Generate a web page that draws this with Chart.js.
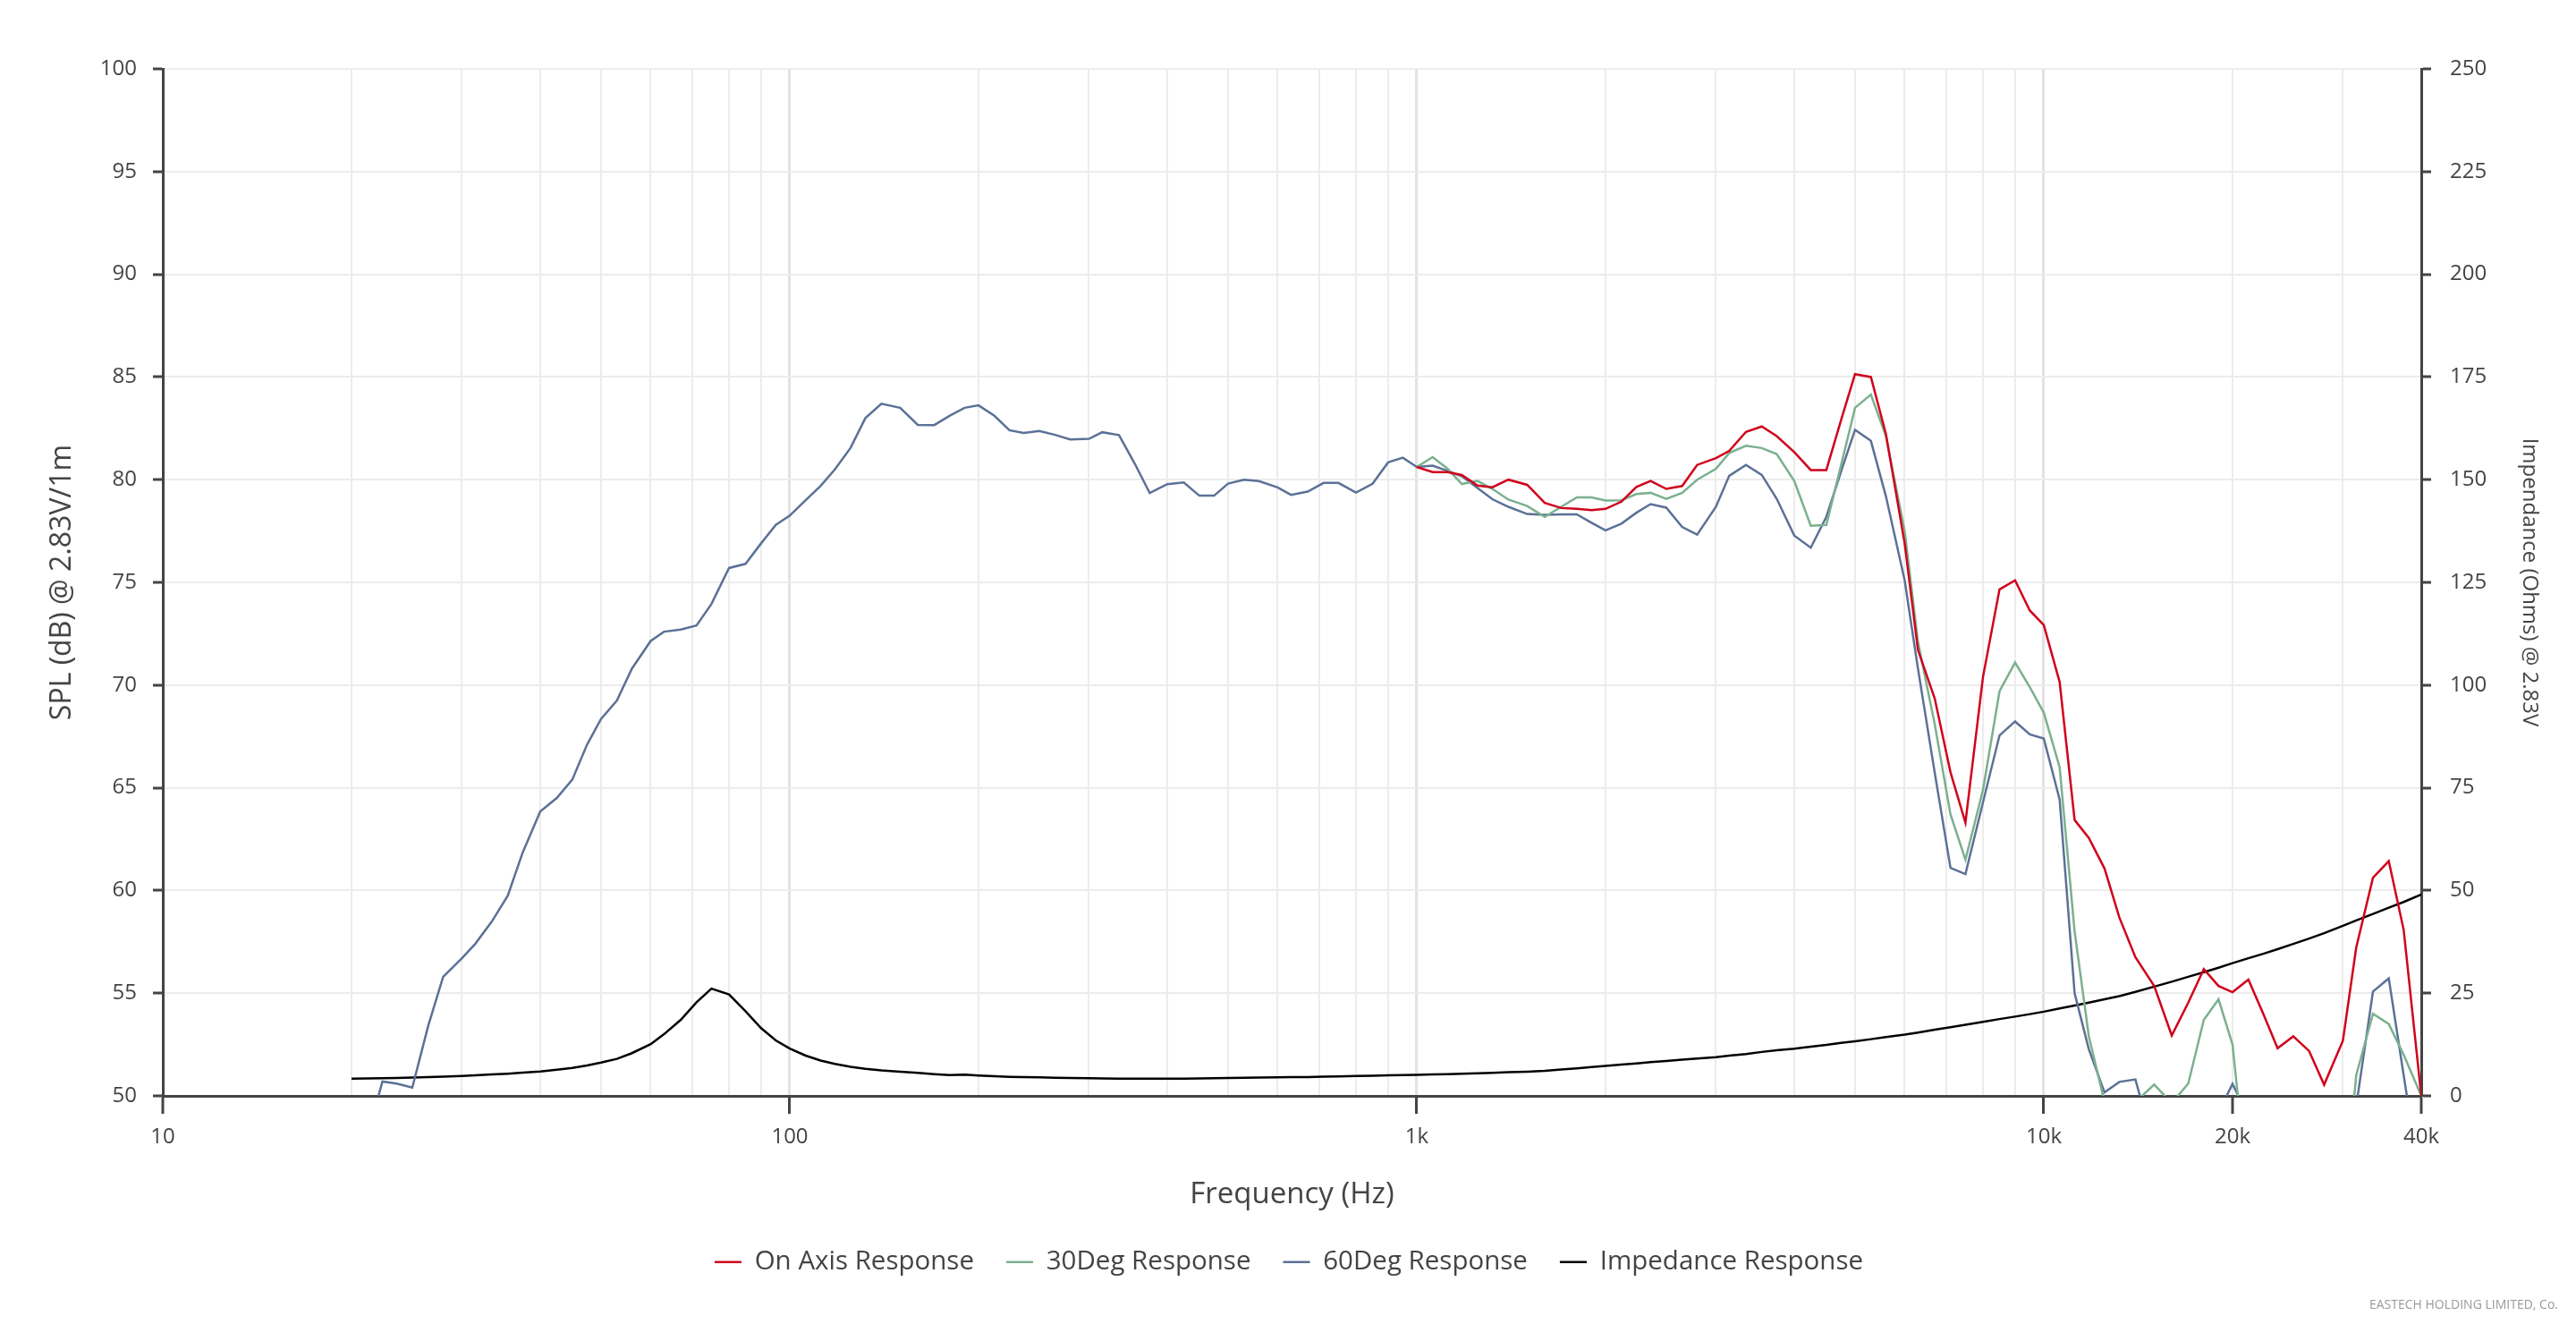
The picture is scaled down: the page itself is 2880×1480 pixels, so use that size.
<!DOCTYPE html>
<html>
<head>
<meta charset="utf-8">
<title>Frequency Response</title>
<script src="https://cdn.jsdelivr.net/npm/chart.js@4.4.1/dist/chart.umd.min.js"></script>
<style>
  html, body { margin: 0; padding: 0; background: #fff; }
  #chart { display: block; }
</style>
</head>
<body>
<canvas id="chart" width="2880" height="1480"></canvas>
<script>
// measurement points (Hz), R40 series
const freqs = [20, 21.2, 22.4, 23.6, 25, 26.5, 28, 30, 31.5, 33.5, 35.5, 37.5,
  40, 42.5, 45, 47.5, 50, 53, 56, 60, 63, 67, 71, 75, 80, 85, 90, 95,
  100, 106, 112, 118, 125, 132, 140, 150, 160, 170, 180, 190,
  200, 212, 224, 236, 250, 265, 280, 300, 315, 335, 355, 375,
  400, 425, 450, 475, 500, 530, 560, 600, 630, 670, 710, 750, 800, 850, 900, 950,
  1000, 1060, 1120, 1180, 1250, 1320, 1400, 1500, 1600, 1700, 1800, 1900,
  2000, 2120, 2240, 2360, 2500, 2650, 2800, 3000, 3150, 3350, 3550, 3750,
  4000, 4250, 4500, 4750, 5000, 5300, 5600, 6000, 6300, 6700, 7100, 7500, 8000, 8500, 9000, 9500,
  10000, 10600, 11200, 11800, 12500, 13200, 14000, 15000, 16000, 17000, 18000, 19000,
  20000, 21200, 22400, 23600, 25000, 26500, 28000, 30000, 31500, 33500, 35500, 37500, 40000];

// on axis and 30deg are measured from 1 kHz up
const offAxisStartHz = 1000;

// SPL dB, 1k .. 40k
const onAxis = [80.62, 80.37, 80.37, 80.23, 79.71, 79.63, 80.0, 79.75, 78.87, 78.62, 78.58, 78.52,
  78.58, 78.93, 79.65, 79.94, 79.55, 79.69, 80.72, 81.05, 81.4, 82.33, 82.59, 82.12,
  81.34, 80.47, 80.47, 82.9, 85.14, 85.0, 82.23, 76.9, 71.71, 69.35, 65.75, 63.3, 70.4, 74.66, 75.1, 73.63,
  72.92, 70.15, 63.43, 62.56, 61.07, 58.68, 56.75, 55.35, 52.94, 54.54, 56.17, 55.35,
  55.05, 55.66, 53.99, 52.32, 52.9, 52.18, 50.54, 52.69, 57.22, 60.62, 61.43, 58.08, 50.0];

const deg30 = [80.62, 81.1, 80.53, 79.79, 79.94, 79.55, 79.03, 78.72, 78.19, 78.68, 79.14, 79.14,
  78.99, 79.0, 79.3, 79.36, 79.07, 79.36, 80.0, 80.53, 81.3, 81.65, 81.54, 81.25,
  79.94, 77.76, 77.8, 80.7, 83.5, 84.14, 82.13, 77.5, 72.1, 68.1, 63.7, 61.5, 64.9, 69.7, 71.1, 69.9,
  68.66, 66.0, 58.0, 52.9, 49.7, 48.5, 49.7, 50.55, 49.65, 50.6, 53.7, 54.7,
  52.5, 45, 44, 44, 44, 44, 44, 44, 51.0, 54.0, 53.5, 52.0, 50.0];

// SPL dB, 20 .. 40k
const deg60 = [44, 48, 50.7, 50.6, 50.4, 53.4, 55.8, 56.7, 57.4, 58.5, 59.75, 61.85,
  63.85, 64.5, 65.4, 67.1, 68.35, 69.25, 70.8, 72.15, 72.6, 72.7, 72.9, 73.95, 75.7, 75.9, 76.9, 77.8,
  78.25, 79.0, 79.7, 80.5, 81.55, 83.0, 83.7, 83.5, 82.67, 82.66, 83.12, 83.5,
  83.62, 83.11, 82.41, 82.27, 82.37, 82.18, 81.96, 81.99, 82.31, 82.17, 80.78, 79.35,
  79.78, 79.87, 79.22, 79.22, 79.81, 80.0, 79.93, 79.62, 79.26, 79.42, 79.84, 79.84, 79.37, 79.8, 80.84, 81.07,
  80.62, 80.68, 80.43, 80.17, 79.59, 79.05, 78.68, 78.33, 78.29, 78.31, 78.31, 77.9,
  77.53, 77.86, 78.39, 78.81, 78.64, 77.7, 77.32, 78.68, 80.19, 80.72, 80.23, 79.07,
  77.28, 76.69, 78.19, 80.4, 82.43, 81.89, 79.2, 75.1, 70.8, 65.74, 61.1, 60.8, 64.3, 67.55, 68.23, 67.6,
  67.4, 64.43, 54.99, 52.27, 50.17, 50.68, 50.8, 47.5, 46, 46, 47, 49.2,
  50.58, 49.0, 45, 44, 44, 44, 44, 44, 49.5, 55.08, 55.72, 51, 45.5];

// impedance ohms, 20 .. 40k
const impedance = [4.2, 4.25, 4.3, 4.35, 4.45, 4.55, 4.7, 4.85, 5.0, 5.2, 5.4, 5.65,
  5.95, 6.35, 6.8, 7.4, 8.1, 9.0, 10.4, 12.6, 15.0, 18.5, 22.8, 26.1, 24.7, 20.6, 16.5, 13.5,
  11.5, 9.8, 8.6, 7.8, 7.1, 6.6, 6.2, 5.9, 5.6, 5.3, 5.05, 5.15,
  4.95, 4.8, 4.65, 4.55, 4.5, 4.4, 4.35, 4.3, 4.25, 4.2, 4.2, 4.2,
  4.2, 4.2, 4.25, 4.3, 4.35, 4.4, 4.45, 4.5, 4.55, 4.6, 4.7, 4.75, 4.85, 4.9, 5.0, 5.05,
  5.1, 5.2, 5.3, 5.4, 5.5, 5.6, 5.75, 5.9, 6.1, 6.4, 6.7, 7.0,
  7.3, 7.6, 7.9, 8.2, 8.5, 8.8, 9.1, 9.4, 9.8, 10.2, 10.7, 11.1,
  11.5, 12.0, 12.4, 12.9, 13.3, 13.8, 14.3, 14.9, 15.4, 16.1, 16.7, 17.3, 18.0, 18.7, 19.3, 19.9,
  20.5, 21.3, 22.0, 22.7, 23.5, 24.3, 25.3, 26.6, 27.8, 29.0, 30.1, 31.2,
  32.3, 33.5, 34.6, 35.7, 37.0, 38.3, 39.6, 41.4, 42.7, 44.3, 45.8, 47.2, 49.0];

// x axis grid lines and labels
const xGridLines = [10, 20, 30, 40, 50, 60, 70, 80, 90,
  100, 200, 300, 400, 500, 600, 700, 800, 900,
  1000, 2000, 3000, 4000, 5000, 6000, 7000, 8000, 9000,
  10000, 20000, 30000, 40000];
const xTickLabels = { 10: '10', 100: '100', 1000: '1k', 10000: '10k', 20000: '20k', 40000: '40k' };
const xMajor = [100, 1000, 10000];

const font = "'Open Sans', 'DejaVu Sans', sans-serif";
const axisColor = '#444';
const gridColor = '#ececec';

function toPoints(values, startHz) {
  const start = freqs.indexOf(startHz);
  return values.map((v, i) => ({ x: freqs[start + i], y: v }));
}

const ctx = document.getElementById('chart').getContext('2d');

const chart = new Chart(ctx, {
  type: 'line',
  data: {
    datasets: [
      { label: 'On Axis Response', data: toPoints(onAxis, offAxisStartHz), borderColor: '#d0021b', backgroundColor: '#d0021b', borderWidth: 2.5, yAxisID: 'y' },
      { label: '30Deg Response', data: toPoints(deg30, offAxisStartHz), borderColor: '#7bb08f', backgroundColor: '#7bb08f', borderWidth: 2.5, yAxisID: 'y' },
      { label: '60Deg Response', data: toPoints(deg60, 20), borderColor: '#5b7196', backgroundColor: '#5b7196', borderWidth: 2.5, yAxisID: 'y' },
      { label: 'Impedance Response', data: toPoints(impedance, 20), borderColor: '#000', backgroundColor: '#000', borderWidth: 2.5, yAxisID: 'y1' }
    ]
  },
  options: {
    responsive: false,
    animation: false,
    devicePixelRatio: 1,
    layout: { padding: { top: 77, right: 20, bottom: 0, left: 22 } },
    elements: { point: { radius: 0 }, line: { tension: 0 } },
    scales: {
      x: {
        type: 'logarithmic',
        position: 'bottom',
        min: 10,
        max: 40000,
        afterBuildTicks: s => { s.ticks = xGridLines.map(v => ({ value: v })); },
        afterFit: s => { s.height = 135; },
        ticks: {
          autoSkip: false, maxRotation: 0, padding: 12, color: axisColor,
          font: { family: font, size: 24 },
          callback: v => xTickLabels[v] || ''
        },
        grid: {
          color: c => (c.tick && xMajor.includes(c.tick.value)) ? '#e2e2e2' : gridColor,
          lineWidth: c => (c.tick && xMajor.includes(c.tick.value)) ? 3 : 2,
          tickLength: 20,
          tickWidth: 3,
          tickColor: c => (c.tick && xTickLabels[c.tick.value]) ? axisColor : 'rgba(0,0,0,0)'
        },
        border: { color: axisColor, width: 3 },
        title: { display: true, text: 'Frequency (Hz)', color: axisColor, font: { family: font, size: 33 }, padding: { top: 0, bottom: 5 } }
      },
      y: {
        position: 'left',
        min: 50,
        max: 100,
        afterFit: s => { s.width = 160; },
        ticks: { stepSize: 5, padding: 18, color: axisColor, font: { family: font, size: 24 } },
        grid: { color: gridColor, lineWidth: 2, tickLength: 11, tickWidth: 3, tickColor: axisColor },
        border: { color: axisColor, width: 3 },
        title: { display: true, text: 'SPL (dB) @ 2.83V/1m', color: axisColor, font: { family: font, size: 32 }, padding: { top: 29, bottom: 0 } }
      },
      y1: {
        position: 'right',
        min: 0,
        max: 250,
        afterFit: s => { s.width = 153; },
        ticks: { stepSize: 25, padding: 21, color: axisColor, font: { family: font, size: 24 } },
        grid: { drawOnChartArea: false, lineWidth: 2, tickLength: 11, tickWidth: 3, tickColor: axisColor },
        border: { color: axisColor, width: 3 },
        title: { display: true, text: 'Impendance (Ohms) @ 2.83V', color: axisColor, font: { family: font, size: 24 }, padding: { top: 18, bottom: 0 } }
      }
    },
    plugins: {
      legend: {
        position: 'bottom',
        labels: {
          usePointStyle: true, pointStyle: 'line', pointStyleWidth: 30, padding: 36,
          color: axisColor, font: { family: font, size: 29.5 }
        }
      },
      subtitle: {
        display: true,
        text: 'EASTECH HOLDING LIMITED, Co.',
        position: 'bottom',
        align: 'end',
        color: '#999',
        font: { family: font, size: 14, weight: 'normal' },
        padding: { top: 15.5, bottom: 12.2 }
      },
      tooltip: { enabled: false }
    }
  }
});
</script>
</body>
</html>
